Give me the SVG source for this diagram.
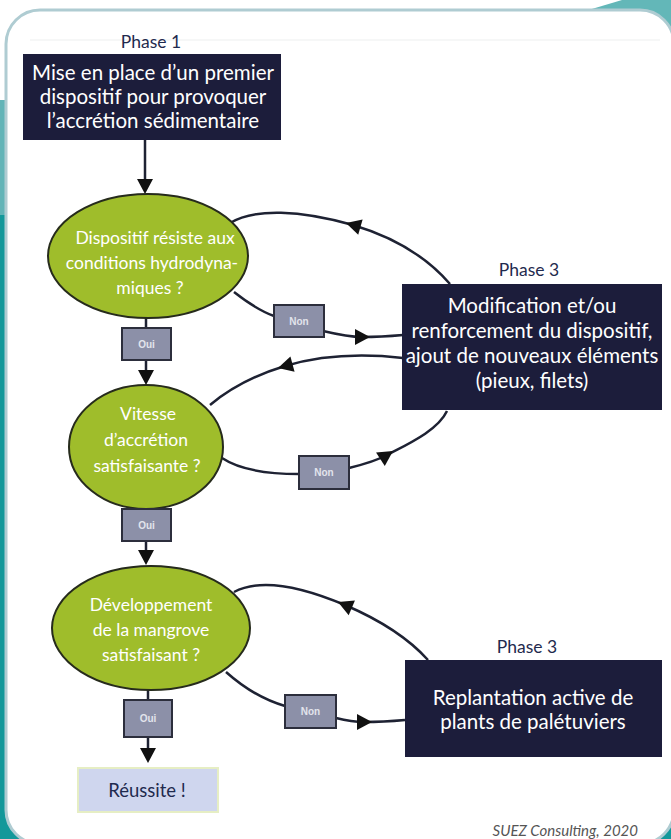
<svg xmlns="http://www.w3.org/2000/svg" width="671" height="839" viewBox="0 0 671 839">
  <defs>
    <style>
      .dark { fill: #1c1d3b; }
      .boxtxt { font-family: Lato, "Liberation Sans", sans-serif; font-size: 20.5px; fill: #ffffff; text-anchor: middle; }
      .phase { font-family: Lato, "Liberation Sans", sans-serif; font-size: 17.5px; fill: #1f2a4e; text-anchor: middle; }
      .q { fill: #9fbd2b; stroke: #262b1c; stroke-width: 2; }
      .qtxt { font-family: Lato, "Liberation Sans", sans-serif; font-size: 17.5px; fill: #ffffff; text-anchor: middle; }
      .tag { fill: #8c90a8; stroke: #2c2e3c; stroke-width: 2; }
      .tagtxt { font-family: "Liberation Sans", Arial, sans-serif; font-size: 10px; font-weight: bold; fill: #e2e4ec; text-anchor: middle; }
      .link { fill: none; stroke: #1e2233; stroke-width: 2.5; }
      .head { fill: #111111; }
    </style>
    <!-- arrowhead pointing along +x, tip at the origin -->
    <path id="ah" d="M0,0 L-15,-8 L-15,8 Z" class="head"/>
  </defs>

  <!-- page background -->
  <rect x="0" y="0" width="671" height="839" fill="#ffffff"/>
  <rect x="0" y="100" width="671" height="739" fill="#13989a"/>
  <rect x="0" y="100" width="12" height="115" fill="#62b4b7"/>
  <polygon points="575,14 622,0 671,0 671,70" fill="#63b7b8"/>
  <rect x="6" y="10" width="668" height="834" rx="34" ry="34" fill="#ffffff" stroke="#afccd2" stroke-width="3"/>
  <line x1="30" y1="40" x2="660" y2="40" stroke="#f6f7f7" stroke-width="2"/>

  <!-- connectors -->
  <g id="connectors">
    <!-- main flow -->
    <line class="link" x1="145" y1="140" x2="145" y2="182"/>
    <use href="#ah" transform="translate(145,194) rotate(90)"/>
    <line class="link" x1="146" y1="318" x2="146" y2="328"/>
    <line class="link" x1="146" y1="360" x2="146" y2="373"/>
    <use href="#ah" transform="translate(146,385) rotate(90)"/>
    <line class="link" x1="146" y1="509" x2="146" y2="510"/>
    <line class="link" x1="146" y1="541" x2="146" y2="552"/>
    <use href="#ah" transform="translate(146,565) rotate(90)"/>
    <line class="link" x1="148" y1="690" x2="148" y2="700"/>
    <line class="link" x1="148" y1="737" x2="148" y2="750"/>
    <use href="#ah" transform="translate(148,763) rotate(90)"/>

    <!-- loop 1 -->
    <path class="link" d="M230,223 C255,208 300,210 353,225 C390,236 425,255 450,284"/>
    <use href="#ah" transform="translate(346,223) rotate(196)"/>
    <path class="link" d="M234,292 C248,303 260,311 274,316"/>
    <path class="link" d="M323,331 C340,335 350,337 362,337 C380,337 392,336 403,335"/>
    <use href="#ah" transform="translate(370,337) rotate(0)"/>

    <!-- loop 2 -->
    <path class="link" d="M403,358 C350,352 312,358 285,366 C252,376 228,390 210,405"/>
    <use href="#ah" transform="translate(278,368) rotate(165)"/>
    <path class="link" d="M222,458 C240,470 270,474 299,474"/>
    <path class="link" d="M349,468 C365,464 378,460 387,455 C410,443 438,430 447,411"/>
    <use href="#ah" transform="translate(393,451) rotate(-33)"/>

    <!-- loop 3 -->
    <path class="link" d="M234,592 C260,578 300,586 345,605 C380,620 410,640 428,660"/>
    <use href="#ah" transform="translate(338,602) rotate(203)"/>
    <path class="link" d="M226,672 C244,688 264,700 285,706"/>
    <path class="link" d="M336,718 C348,721 356,722 364,722 C382,722 394,721 405,720"/>
    <use href="#ah" transform="translate(372,722) rotate(0)"/>
  </g>

  <!-- phase 1 -->
  <g id="phase1">
    <text class="phase" x="151" y="48">Phase 1</text>
    <rect class="dark" x="23" y="54" width="258" height="86"/>
    <text class="boxtxt" x="153" y="80">Mise en place d’un premier</text>
    <text class="boxtxt" x="153" y="104">dispositif pour provoquer</text>
    <text class="boxtxt" x="153" y="128">l’accrétion sédimentaire</text>
  </g>

  <!-- decision 1 -->
  <g id="q1">
    <ellipse class="q" cx="148" cy="256" rx="100" ry="62"/>
    <text class="qtxt" x="155" y="244">Dispositif résiste aux</text>
    <text class="qtxt" x="152" y="269">conditions hydrodyna-</text>
    <text class="qtxt" x="150" y="294">miques ?</text>
  </g>
  <g id="oui1">
    <rect class="tag" x="122" y="328" width="49" height="32"/>
    <text class="tagtxt" x="146.5" y="348">Oui</text>
  </g>
  <g id="non1">
    <rect class="tag" x="274" y="305" width="50" height="32"/>
    <text class="tagtxt" x="299" y="325">Non</text>
  </g>

  <!-- phase 3 : reinforcement -->
  <g id="phase3a">
    <text class="phase" x="529" y="276">Phase 3</text>
    <rect class="dark" x="402" y="284" width="260" height="126"/>
    <text class="boxtxt" x="532" y="313">Modification et/ou</text>
    <text class="boxtxt" x="532" y="338">renforcement du dispositif,</text>
    <text class="boxtxt" x="532" y="363">ajout de nouveaux éléments</text>
    <text class="boxtxt" x="532" y="388">(pieux, filets)</text>
  </g>

  <!-- decision 2 -->
  <g id="q2">
    <ellipse class="q" cx="146" cy="447" rx="77" ry="62"/>
    <text class="qtxt" x="148" y="420">Vitesse</text>
    <text class="qtxt" x="146" y="446">d’accrétion</text>
    <text class="qtxt" x="147" y="472">satisfaisante ?</text>
  </g>
  <g id="oui2">
    <rect class="tag" x="122" y="509" width="49" height="32"/>
    <text class="tagtxt" x="146.5" y="529">Oui</text>
  </g>
  <g id="non2">
    <rect class="tag" x="299" y="456" width="50" height="33"/>
    <text class="tagtxt" x="324" y="476">Non</text>
  </g>

  <!-- decision 3 -->
  <g id="q3">
    <ellipse class="q" cx="151" cy="628" rx="99" ry="62"/>
    <text class="qtxt" x="151" y="611">Développement</text>
    <text class="qtxt" x="151" y="636">de la mangrove</text>
    <text class="qtxt" x="151" y="661">satisfaisant ?</text>
  </g>
  <g id="oui3">
    <rect class="tag" x="124" y="700" width="48" height="37"/>
    <text class="tagtxt" x="148" y="722">Oui</text>
  </g>
  <g id="non3">
    <rect class="tag" x="285" y="695" width="51" height="33"/>
    <text class="tagtxt" x="310.5" y="715">Non</text>
  </g>

  <!-- phase 3 : replanting -->
  <g id="phase3b">
    <text class="phase" x="527" y="653">Phase 3</text>
    <rect class="dark" x="405" y="660" width="257" height="97"/>
    <text class="boxtxt" x="533" y="705">Replantation active de</text>
    <text class="boxtxt" x="533" y="729">plants de palétuviers</text>
  </g>

  <!-- outcome -->
  <g id="success">
    <rect x="78" y="768" width="140" height="44" fill="#cfd6ee" stroke="#e6eec4" stroke-width="2"/>
    <text x="147" y="797" font-family="Lato, 'Liberation Sans', sans-serif" font-size="18.5" fill="#1f2a4e" text-anchor="middle">Réussite !</text>
  </g>

  <text x="638" y="836" font-family="Lato, 'Liberation Sans', sans-serif" font-size="15" font-style="italic" fill="#555555" text-anchor="end">SUEZ Consulting, 2020</text>
</svg>
